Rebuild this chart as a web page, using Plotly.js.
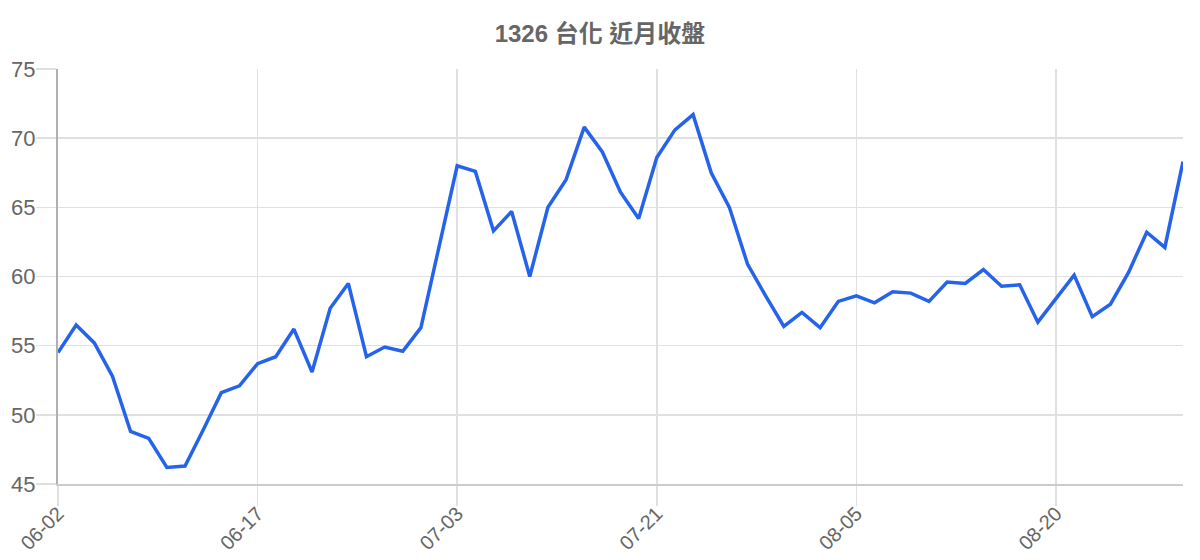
<!DOCTYPE html>
<html>
<head>
<meta charset="utf-8">
<script src="https://cdn.plot.ly/plotly-3.0.1.min.js"></script>
<style>
html,body{margin:0;padding:0;background:#fff;}
#chart{width:1200px;height:560px;}
</style>
</head>
<body>
<div id="chart"></div>
<script>
const dates = [
  '06-02','06-03','06-04','06-05','06-06','06-09','06-10','06-11','06-12','06-13','06-16',
  '06-17','06-18','06-19','06-20','06-23','06-24','06-25','06-26','06-27','06-30','07-01',
  '07-03','07-04','07-08','07-09','07-10','07-11','07-14','07-15','07-16','07-17','07-18',
  '07-21','07-22','07-23','07-24','07-25','07-28','07-29','07-30','07-31','08-01','08-04',
  '08-05','08-06','08-07','08-08','08-11','08-12','08-13','08-14','08-15','08-18','08-19',
  '08-20','08-21','08-22','08-25','08-26','08-27','08-28','08-29'
];
const closes = [
  54.5,56.5,55.2,52.8,48.8,48.3,46.2,46.3,48.9,51.6,52.1,
  53.7,54.2,56.2,53.1,57.7,59.5,54.2,54.9,54.6,56.3,62.2,
  68.0,67.6,63.3,64.7,60.0,65.0,67.0,70.8,69.0,66.1,64.2,
  68.6,70.6,71.7,67.5,65.0,60.9,58.6,56.4,57.4,56.3,58.2,
  58.6,58.1,58.9,58.8,58.2,59.6,59.5,60.5,59.3,59.4,56.7,
  58.4,60.1,57.1,58.0,60.3,63.2,62.1,68.3
];
const tickLabels = ['06-02','06-17','07-03','07-21','08-05','08-20'];
const yTicks = [45,50,55,60,65,70,75];
const chartTitle = '1326 台化 近月收盤';

const trace = {
  x: dates,
  y: closes,
  type: 'scatter',
  mode: 'lines',
  line: {color: '#2563eb', width: 3.5},
  hoverinfo: 'x+y'
};

const layout = {
  width: 1200,
  height: 560,
  paper_bgcolor: '#ffffff',
  plot_bgcolor: '#ffffff',
  margin: {l: 58, r: 17, t: 69, b: 76},
  showlegend: false,
  font: {family: 'Liberation Sans, Arial, sans-serif', color: '#666666'},
  title: {
    text: '<b>' + chartTitle + '</b>',
    font: {family: 'Liberation Sans, "Noto Sans CJK TC", sans-serif', size: 24, color: '#666666'},
    x: 0.5, xanchor: 'center', y: 0.94, yanchor: 'middle'
  },
  xaxis: {
    type: 'category',
    range: [0, dates.length - 1],
    tickmode: 'array',
    tickvals: tickLabels,
    ticktext: tickLabels,
    tickangle: -45,
    tickfont: {size: 20, color: '#666666'},
    ticks: 'outside',
    ticklen: 20,
    tickcolor: '#e0e0e0',
    tickwidth: 1.5,
    ticklabelstandoff: -12,
    showgrid: true,
    gridcolor: '#e0e0e0',
    gridwidth: 1.5,
    showline: true,
    linecolor: '#cccccc',
    linewidth: 2,
    zeroline: false,
    fixedrange: true
  },
  yaxis: {
    range: [45, 75],
    tickmode: 'array',
    tickvals: yTicks,
    ticktext: yTicks.map(String),
    tickfont: {size: 22, color: '#666666'},
    ticks: 'outside',
    ticklen: 20,
    tickcolor: '#e0e0e0',
    tickwidth: 1.5,
    ticklabelstandoff: -4,
    showgrid: true,
    gridcolor: '#e0e0e0',
    gridwidth: 1.5,
    showline: true,
    linecolor: '#b0b0b0',
    linewidth: 2,
    zeroline: false,
    fixedrange: true
  }
};

Plotly.newPlot('chart', [trace], layout, {displayModeBar: false, staticPlot: true});
</script>
</body>
</html>
